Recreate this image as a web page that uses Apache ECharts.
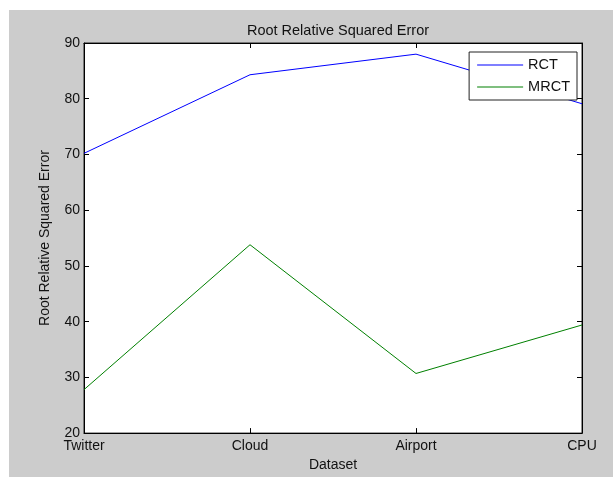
<!DOCTYPE html>
<html>
<head>
<meta charset="utf-8">
<script src="https://cdn.jsdelivr.net/npm/echarts@6/dist/echarts.min.js"></script>
<style>
  body { margin: 0; background: #fff; }
  #bg { position: absolute; left: 9px; top: 10px; width: 604px; height: 467px; background: #cccccc; }
  #chart { position: absolute; left: 0; top: 0; width: 613px; height: 477px; }
</style>
</head>
<body>
<div id="bg"></div>
<div id="chart"></div>
<script>
// data
const datasets = ['Twitter', 'Cloud', 'Airport', 'CPU'];
const rct = [70.2, 84.3, 88.0, 79.1];
const mrct = [27.8, 53.8, 30.7, 39.4];
const yTicks = [20, 30, 40, 50, 60, 70, 80, 90];

const font = 'Liberation Sans, Arial, sans-serif';
const txt = { color: '#111', fontFamily: font, fontSize: 14 };

const chart = echarts.init(document.getElementById('chart'));

const xBase = {
    type: 'category',
    data: datasets,
    boundaryGap: false,
    axisLine: { show: true, lineStyle: { color: '#000', width: 1 } },
    axisTick: { show: true, inside: true, length: 5, lineStyle: { color: '#000' } },
    splitLine: { show: false }
};
const yBase = {
    type: 'value',
    min: yTicks[0],
    max: yTicks[yTicks.length - 1],
    interval: 10,
    axisLine: { show: true, lineStyle: { color: '#000', width: 1 } },
    axisTick: { show: true, inside: true, length: 5, lineStyle: { color: '#000' } },
    splitLine: { show: false }
};

chart.setOption({
    animation: false,
    title: {
        text: 'Root Relative Squared Error',
        left: 333,
        top: 18,
        textAlign: 'center',
        textStyle: Object.assign({}, txt, { fontWeight: 'normal', fontSize: 14.5 })
    },
    legend: {
        data: ['RCT', 'MRCT'],
        orient: 'vertical',
        right: 36,
        top: 52,
        padding: [5, 7, 5, 8],
        icon: 'rect',
        itemWidth: 46,
        itemHeight: 1.2,
        itemGap: 6,
        backgroundColor: '#fff',
        borderColor: '#222',
        borderWidth: 1,
        textStyle: Object.assign({}, txt, { fontSize: 14.5, lineHeight: 16 })
    },
    grid: {
        left: 84, right: 31, top: 43, bottom: 41,
        show: true, backgroundColor: '#fff', borderColor: '#222', borderWidth: 1
    },
    xAxis: [
        Object.assign({}, xBase, {
            position: 'bottom',
            name: 'Dataset',
            nameLocation: 'middle',
            nameGap: 23,
            nameTextStyle: txt,
            axisLabel: Object.assign({ margin: 6 }, txt)
        }),
        Object.assign({}, xBase, { position: 'top', axisLabel: { show: false } })
    ],
    yAxis: [
        Object.assign({}, yBase, {
            position: 'left',
            name: 'Root Relative Squared Error',
            nameLocation: 'middle',
            nameGap: 32,
            nameTextStyle: txt,
            axisLabel: Object.assign({ margin: 4 }, txt)
        }),
        Object.assign({}, yBase, { position: 'right', axisLabel: { show: false } })
    ],
    series: [
        {
            name: 'RCT', type: 'line', data: rct,
            symbol: 'none', showSymbol: false,
            lineStyle: { color: '#0000ff', width: 1 }, itemStyle: { color: '#0000ff' }
        },
        {
            name: 'MRCT', type: 'line', data: mrct,
            symbol: 'none', showSymbol: false,
            lineStyle: { color: '#008000', width: 1 }, itemStyle: { color: '#008000' }
        }
    ]
});
</script>
</body>
</html>
